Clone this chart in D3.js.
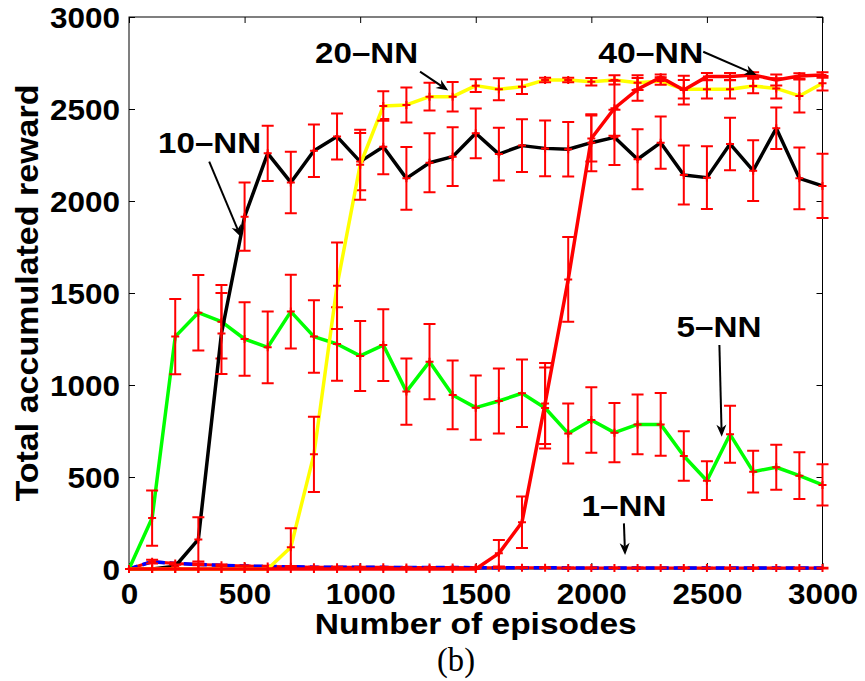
<!DOCTYPE html>
<html>
<head>
<meta charset="utf-8">
<script src="https://cdn.jsdelivr.net/npm/d3@7"></script>
<style>
  body { margin: 0; background: #fff; }
  svg { display: block; }
</style>
</head>
<body>
<div id="chart"></div>
<script>
// episodes sampled every 100
const episodes = [0, 100, 200, 300, 400, 500, 600, 700, 800, 900, 1000, 1100, 1200, 1300, 1400, 1500,
  1600, 1700, 1800, 1900, 2000, 2100, 2200, 2300, 2400, 2500, 2600, 2700, 2800, 2900, 3000];

// mean reward and error (half bar height) for each k
const oneNN = [0, 40, 30, 25, 20, 16, 14, 12, 10, 10, 9, 9, 8, 8, 8, 7, 7, 7, 7, 6, 6, 6, 6, 6, 6, 5, 5, 5, 5, 5, 5];
const oneNNErr = [0, 10, 6, 5, 4, 3, 3, 3, 2, 2, 2, 2, 2, 2, 2, 2, 2, 2, 2, 2, 2, 2, 2, 2, 2, 2, 2, 2, 2, 2, 2];

const fiveNN = [0, 277, 1263, 1393, 1344, 1250, 1205, 1399, 1263, 1223, 1158, 1217, 964, 1127, 946, 877,
  913, 955, 875, 737, 810, 741, 786, 786, 614, 480, 732, 529, 553, 507, 457];
const fiveNNErr = [0, 150, 205, 205, 200, 200, 195, 200, 197, 200, 190, 195, 180, 205, 187, 175,
  177, 183, 220, 163, 178, 161, 163, 170, 135, 105, 155, 113, 122, 127, 112];

const tenNN = [0, 0, 15, 161, 1280, 1915, 2259, 2101, 2273, 2350, 2214, 2295, 2123, 2208, 2241, 2368,
  2255, 2301, 2286, 2281, 2317, 2346, 2227, 2317, 2141, 2127, 2310, 2165, 2395, 2123, 2082];
const tenNNErr = [0, 0, 10, 120, 220, 185, 150, 167, 143, 125, 155, 150, 170, 160, 160, 135,
  143, 143, 152, 148, 155, 150, 163, 142, 160, 170, 143, 165, 113, 168, 175];

const twentyNN = [0, 0, 0, 0, 0, 0, 0, 118, 623, 1540, 2197, 2516, 2522, 2567, 2567, 2627,
  2607, 2621, 2658, 2658, 2648, 2658, 2643, 2652, 2607, 2607, 2607, 2625, 2612, 2571, 2640];
const twentyNNErr = [0, 0, 0, 0, 0, 0, 0, 103, 205, 235, 190, 80, 95, 75, 80, 35,
  60, 40, 12, 12, 20, 25, 40, 20, 50, 50, 50, 40, 55, 90, 40];

const fortyNN = [0, 0, 0, 0, 0, 0, 0, 0, 0, 0, 0, 0, 0, 0, 0, 0,
  85, 254, 900, 1574, 2340, 2504, 2607, 2672, 2603, 2676, 2676, 2685, 2658, 2679, 2685];
const fortyNNErr = [0, 0, 0, 0, 0, 0, 0, 0, 0, 0, 0, 0, 0, 0, 0, 0,
  72, 140, 220, 230, 125, 150, 62, 15, 78, 20, 20, 15, 30, 15, 15];

const xTicks = [0, 500, 1000, 1500, 2000, 2500, 3000];
const yTicks = [0, 500, 1000, 1500, 2000, 2500, 3000];

// label text, label anchor and arrow (from -> to), all in data units
const annotations = [
  { text: "10\u2013NN", at: [126, 2261], from: [347, 2214], to: [484, 1804], len: 103 },
  { text: "20\u2013NN", at: [805, 2748], from: [1259, 2703], to: [1381, 2600], len: 103 },
  { text: "40\u2013NN", at: [2030, 2750], from: [2484, 2811], to: [2715, 2685], len: 105 },
  { text: "5\u2013NN", at: [2369, 1261], from: [2554, 1217], to: [2564, 719], len: 85 },
  { text: "1\u2013NN", at: [1958, 288], from: [2141, 248], to: [2146, 76], len: 85 }
];

const series = [
  { mean: oneNN, err: oneNNErr, color: "#0000ff", dash: "9,5", under: true },
  { mean: fiveNN, err: fiveNNErr, color: "#00ff00" },
  { mean: tenNN, err: tenNNErr, color: "#000000" },
  { mean: twentyNN, err: twentyNNErr, color: "#ffff00" },
  { mean: fortyNN, err: fortyNNErr, color: "#ff0000" }
];

const W = 865, H = 681;
const sans = "'Liberation Sans', Arial, Helvetica, sans-serif";
const fmt = d3.format("d");

const svg = d3.select("#chart").append("svg")
  .attr("width", W)
  .attr("height", H);

const x = d3.scaleLinear().domain([0, 3000]).range([129, 822.5]);
const y = d3.scaleLinear().domain([0, 3000]).range([569, 17]);

// axes with inward ticks on all four sides
const axisG = svg.append("g");
const bottom = axisG.append("g")
  .attr("transform", `translate(0,${y(0)})`)
  .call(d3.axisBottom(x).tickValues(xTicks).tickFormat(fmt)
    .tickSizeInner(-6).tickSizeOuter(0).tickPadding(14));
const left = axisG.append("g")
  .attr("transform", `translate(${x(0)},0)`)
  .call(d3.axisLeft(y).tickValues(yTicks).tickFormat(fmt)
    .tickSizeInner(-6).tickSizeOuter(0).tickPadding(9));
axisG.append("g")
  .attr("transform", `translate(0,${y(3000)})`)
  .call(d3.axisTop(x).tickValues(xTicks).tickSizeInner(-6).tickSizeOuter(0).tickFormat(""));
axisG.append("g")
  .attr("transform", `translate(${x(3000)},0)`)
  .call(d3.axisRight(y).tickValues(yTicks).tickSizeInner(-6).tickSizeOuter(0).tickFormat(""));

axisG.selectAll(".domain").remove();
axisG.selectAll(".tick line").attr("stroke", "#000").attr("stroke-width", 1);

[bottom, left].forEach(g => {
  g.selectAll("text")
    .attr("fill", "#000")
    .style("font-family", sans)
    .style("font-weight", "bold")
    .style("font-size", "30px")
    .attr("textLength", d => fmt(d).length * 17.5)
    .attr("lengthAdjust", "spacingAndGlyphs");
});
left.selectAll("text").attr("dy", "0.36em");

axisG.append("rect")
  .attr("x", x(0)).attr("y", y(3000))
  .attr("width", x(3000) - x(0)).attr("height", y(0) - y(3000))
  .attr("fill", "none").attr("stroke", "#000").attr("stroke-width", 1);

// data
const line = d3.line().x((d, i) => x(episodes[i])).y(d => y(d));
const plot = svg.append("g");

series.forEach(s => {
  if (s.under) {
    plot.append("path").datum(s.mean)
      .attr("d", line).attr("fill", "none")
      .attr("stroke", "#ff0000").attr("stroke-width", 3);
  }
  plot.append("path").datum(s.mean)
    .attr("d", line).attr("fill", "none")
    .attr("stroke", s.color).attr("stroke-width", 3.5)
    .attr("stroke-dasharray", s.dash || null)
    .attr("stroke-linejoin", "round");

  const pts = s.mean.map((m, i) => ({ x: episodes[i], m: m, e: s.err[i] }));
  const bars = plot.append("g").attr("stroke", "#ff0000").attr("stroke-width", 2).attr("fill", "none");
  pts.filter(p => p.e > 0).forEach(p => {
    const px = x(p.x), top = y(p.m + p.e), bot = y(p.m - p.e);
    bars.append("path")
      .attr("d", `M${px},${top}V${bot}M${px - 6},${top}H${px + 6}M${px - 6},${bot}H${px + 6}`);
  });
  pts.forEach(p => {
    const px = x(p.x), py = y(p.m);
    bars.append("path").attr("d", `M${px - 4},${py}H${px + 4}M${px},${py - 4}V${py + 4}`);
  });
});

// annotations
const ann = svg.append("g");
annotations.forEach(a => {
  ann.append("text")
    .attr("x", x(a.at[0])).attr("y", y(a.at[1]))
    .attr("textLength", a.len).attr("lengthAdjust", "spacingAndGlyphs")
    .style("font-family", sans).style("font-weight", "bold").style("font-size", "30px")
    .text(a.text);

  const x0 = x(a.from[0]), y0 = y(a.from[1]), x1 = x(a.to[0]), y1 = y(a.to[1]);
  const ang = Math.atan2(y1 - y0, x1 - x0);
  const hl = 12, hw = 5;
  const ux = Math.cos(ang), uy = Math.sin(ang);
  const bx = x1 - ux * hl, by = y1 - uy * hl;
  const ix = x1 - ux * hl * 0.7, iy = y1 - uy * hl * 0.7;
  ann.append("line")
    .attr("x1", x0).attr("y1", y0).attr("x2", ix).attr("y2", iy)
    .attr("stroke", "#000").attr("stroke-width", 2);
  ann.append("path")
    .attr("d", `M${x1},${y1}L${bx - uy * hw},${by + ux * hw}L${ix},${iy}L${bx + uy * hw},${by - ux * hw}Z`)
    .attr("fill", "#000");
});

// titles
svg.append("text")
  .attr("x", (x(0) + x(3000)) / 2).attr("y", 634)
  .attr("text-anchor", "middle")
  .attr("textLength", 322).attr("lengthAdjust", "spacingAndGlyphs")
  .style("font-family", sans).style("font-weight", "bold").style("font-size", "29px")
  .text("Number of episodes");

svg.append("text")
  .attr("transform", `translate(38,${(y(0) + y(3000)) / 2}) rotate(-90)`)
  .attr("text-anchor", "middle")
  .attr("textLength", 417).attr("lengthAdjust", "spacingAndGlyphs")
  .style("font-family", sans).style("font-weight", "bold").style("font-size", "32px")
  .text("Total accumulated reward");

svg.append("text")
  .attr("x", 456).attr("y", 671)
  .attr("text-anchor", "middle")
  .attr("textLength", 38).attr("lengthAdjust", "spacingAndGlyphs")
  .style("font-family", "'Liberation Serif', 'DejaVu Serif', serif").style("font-size", "33px")
  .text("(b)");
</script>
</body>
</html>
